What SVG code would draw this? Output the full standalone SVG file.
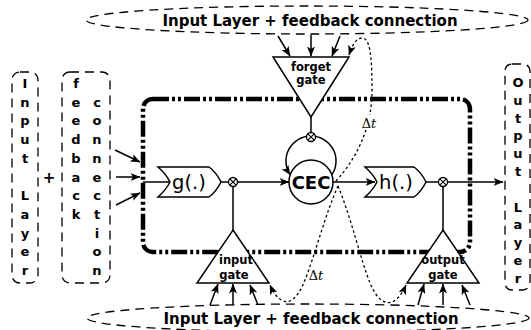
<svg xmlns="http://www.w3.org/2000/svg" width="531" height="330" viewBox="0 0 531 330">
<defs>
<style>
.dash{fill:none;stroke:#000;stroke-width:1.3;stroke-dasharray:9 6}
.ln{fill:none;stroke:#000;stroke-width:1.5}
.ar{fill:none;stroke:#000;stroke-width:1.5;marker-end:url(#ah)}
.dot{fill:none;stroke:#000;stroke-width:1.3;stroke-dasharray:2.6 2.6;marker-end:url(#ah)}
.shape{fill:#fff;stroke:#000;stroke-width:1.5}
.b{font-family:"DejaVu Sans",sans-serif;font-weight:bold;fill:#000}
.col{font-family:"DejaVu Sans",sans-serif;font-weight:bold;font-size:13px;text-anchor:middle}
.gl{font-family:"DejaVu Sans",sans-serif;font-weight:bold;font-size:11.5px;text-anchor:middle}
.fn{font-family:"DejaVu Sans",sans-serif;font-size:19.5px;text-anchor:middle}
.dt{font-family:"DejaVu Serif","Liberation Serif",serif;font-size:13px;text-anchor:middle}
</style>
<marker id="ah" markerWidth="10" markerHeight="8" refX="9.5" refY="4" orient="auto" markerUnits="userSpaceOnUse">
<path d="M0,0 L10,4 L0,8 L2.5,4 z" fill="#000"/>
</marker>
<g id="mul">
<circle r="4.5" fill="#fff" stroke="#000" stroke-width="1.3"/>
<path d="M-3.2,-3.2 L3.2,3.2 M-3.2,3.2 L3.2,-3.2" stroke="#000" stroke-width="1.2"/>
</g>
</defs>

<g id="top-input">
<ellipse cx="307" cy="20" rx="221" ry="14" class="dash"/>
<text x="310" y="26" class="b" font-size="15" text-anchor="middle">Input Layer + feedback connection</text>
</g>

<g id="bottom-input">
<ellipse cx="308" cy="318" rx="221" ry="14" class="dash"/>
<text x="311" y="324" class="b" font-size="15" text-anchor="middle">Input Layer + feedback connection</text>
</g>

<g id="input-layer">
<rect x="12" y="72" width="26" height="211" rx="8" class="dash"/>
<text class="col"><tspan x="25" y="88">I</tspan><tspan x="25" y="106.7">n</tspan><tspan x="25" y="125.4">p</tspan><tspan x="25" y="144.1">u</tspan><tspan x="25" y="162.8">t</tspan><tspan x="25" y="200.2">L</tspan><tspan x="25" y="218.9">a</tspan><tspan x="25" y="237.6">y</tspan><tspan x="25" y="256.3">e</tspan><tspan x="25" y="275">r</tspan></text>
</g>

<g id="plus">
<text x="49" y="183" class="b" font-size="15" text-anchor="middle">+</text>
</g>

<g id="feedback-connection">
<rect x="62" y="72" width="48" height="211" rx="8" class="dash"/>
<text class="col"><tspan x="76" y="88">f</tspan><tspan x="76" y="106.7">e</tspan><tspan x="76" y="125.4">e</tspan><tspan x="76" y="144.1">d</tspan><tspan x="76" y="162.8">b</tspan><tspan x="76" y="181.5">a</tspan><tspan x="76" y="200.2">c</tspan><tspan x="76" y="218.9">k</tspan></text>
<text class="col"><tspan x="97" y="106.7">c</tspan><tspan x="97" y="125.4">o</tspan><tspan x="97" y="144.1">n</tspan><tspan x="97" y="162.8">n</tspan><tspan x="97" y="181.5">e</tspan><tspan x="97" y="200.2">c</tspan><tspan x="97" y="218.9">t</tspan><tspan x="97" y="237.6">i</tspan><tspan x="97" y="256.3">o</tspan><tspan x="97" y="275">n</tspan></text>
</g>

<g id="output-layer">
<rect x="505" y="64" width="25" height="226" rx="7" class="dash"/>
<text class="col"><tspan x="518" y="87">O</tspan><tspan x="518" y="104.8">u</tspan><tspan x="518" y="122.6">t</tspan><tspan x="518" y="140.4">p</tspan><tspan x="518" y="158.2">u</tspan><tspan x="518" y="176">t</tspan><tspan x="518" y="211.6">L</tspan><tspan x="518" y="229.4">a</tspan><tspan x="518" y="247.2">y</tspan><tspan x="518" y="265">e</tspan><tspan x="518" y="282.8">r</tspan></text>
</g>

<g id="memory-block">
<rect x="143" y="99" width="327" height="153" rx="10" fill="none" stroke="#000" stroke-width="4.5" stroke-dasharray="16 3 3 3 3 3"/>
</g>

<g id="connectors">
<path class="ar" d="M115,150 L140,162"/>
<path class="ar" d="M116,177 L140,177"/>
<path class="ar" d="M116,205 L140,193"/>
<path class="ln" d="M143,182 L170,182"/>
<path class="ln" d="M221,182 L229,182"/>
<path class="ar" d="M237.5,182 L289,182"/>
<path class="ar" d="M333,182 L375,182"/>
<path class="ln" d="M426,182 L438.5,182"/>
<path class="ar" d="M447.5,182 L503,182"/>
<path class="ln" d="M233,186.5 L233,230"/>
<path class="ln" d="M443,186.5 L443,230"/>
<path class="ln" d="M311,117 L311,132.5"/>
<path class="ar" d="M311,136 A25,25 0 0 0 290.2,174.9"/>
<path class="ln" d="M311,136 A25,25 0 0 1 331.8,174.9"/>
<path class="ar" d="M278,36 L290,56"/>
<path class="ar" d="M311,35 L311,56"/>
<path class="ar" d="M340,36 L332,56"/>
<path class="ar" d="M210,305 L218,284"/>
<path class="ar" d="M233,305 L233,284"/>
<path class="ar" d="M258,305 L250,285"/>
<path class="ar" d="M418,305 L424,284"/>
<path class="ar" d="M443,305 L443,284"/>
<path class="ar" d="M470,305 L462,285"/>
<path class="dot" d="M336,181 C355,160 372,130 372,90 C372,55 370,38 362,38 C356,38 352,46 349,55"/>
<path class="dot" d="M338,186 C325,215 315,255 305,280 C298,298 290,304 283,301 C277,298 273,292 270,285"/>
<path class="dot" d="M338,186 C352,220 360,258 370,283 C377,300 386,306 394,301 C399,298 403,292 406,285"/>
</g>

<g id="dt-top">
<rect x="360" y="115" width="18" height="15" fill="#fff"/>
<text x="369" y="128" class="dt">Δ<tspan font-style="italic">t</tspan></text>
</g>
<g id="dt-bottom">
<text x="316" y="280" class="dt">Δ<tspan font-style="italic">t</tspan></text>
</g>

<g id="g-func">
<path class="shape" d="M158,167 L209,167 Q216,172 221,182 Q216,192 209,197 L158,197 Q166,190 170,182 Q166,174 158,167 Z"/>
<text x="189" y="189" class="fn">g(.)</text>
</g>

<g id="h-func">
<path class="shape" d="M365,167 L414,167 Q421,172 426,182 Q421,192 414,197 L365,197 Q373,190 377,182 Q373,174 365,167 Z"/>
<text x="396" y="189" class="fn">h(.)</text>
</g>

<g id="cec">
<circle cx="311" cy="182" r="22" class="shape"/>
<text x="311" y="189" class="b" font-size="18" text-anchor="middle">CEC</text>
</g>

<g id="forget-gate">
<path class="shape" d="M273,57 L349,57 L311,117 Z"/>
<text x="311" y="71" class="gl">forget</text>
<text x="311" y="84" class="gl">gate</text>
</g>

<g id="input-gate">
<path class="shape" d="M233,230 L269,283 L197,283 Z"/>
<text x="236" y="264" class="gl">input</text>
<text x="234" y="278.5" class="gl">gate</text>
</g>

<g id="output-gate">
<path class="shape" d="M443,230 L479,283 L407,283 Z"/>
<text x="443" y="264" class="gl">output</text>
<text x="443" y="278.5" class="gl">gate</text>
</g>

<g id="multipliers">
<use href="#mul" x="233" y="182"/>
<use href="#mul" x="311" y="137"/>
<use href="#mul" x="443" y="182"/>
</g>
</svg>
